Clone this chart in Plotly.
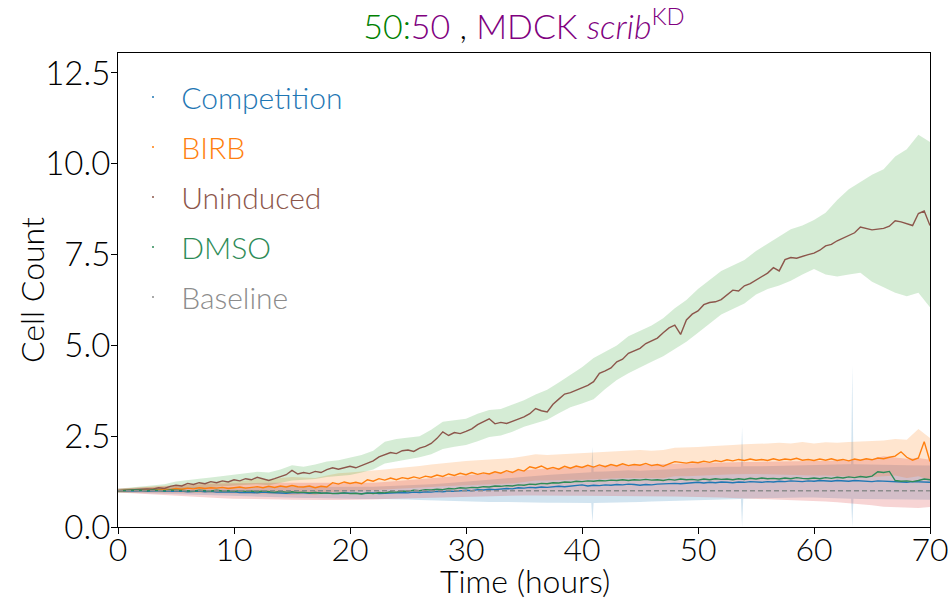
import plotly.graph_objects as go

# ---------------- data ----------------
hours = [i * 0.5 for i in range(141)]          # 0 .. 70 h, half-hour grid
band_hours = list(range(71))                   # 0 .. 70 h, hourly grid

uninduced_mean = [
    1.00, 1.01, 1.00, 1.03, 1.02, 1.05, 1.04, 1.08, 1.06, 1.12,
    1.15, 1.13, 1.20, 1.17, 1.22, 1.19, 1.25, 1.22, 1.27, 1.24,
    1.30, 1.27, 1.33, 1.30, 1.37, 1.32, 1.28, 1.33, 1.38, 1.44,
    1.56, 1.46, 1.50, 1.47, 1.53, 1.50, 1.58, 1.63, 1.59, 1.64,
    1.67, 1.63, 1.70, 1.76, 1.82, 1.93, 1.98, 2.05, 2.02, 2.10,
    2.12, 2.08, 2.17, 2.22, 2.30, 2.44, 2.62, 2.52, 2.60, 2.57,
    2.63, 2.70, 2.82, 2.90, 2.98, 2.84, 2.88, 2.85, 2.92, 2.97,
    3.03, 3.12, 3.26, 3.20, 3.17, 3.38, 3.52, 3.66, 3.70, 3.77,
    3.82, 3.90, 4.00, 4.23, 4.30, 4.38, 4.55, 4.62, 4.78, 4.85,
    4.92, 5.05, 5.12, 5.20, 5.35, 5.48, 5.56, 5.30, 5.70, 5.86,
    5.95, 6.12, 6.18, 6.20, 6.26, 6.40, 6.52, 6.50, 6.64, 6.70,
    6.80, 6.88, 6.99, 7.14, 7.05, 7.36, 7.42, 7.40, 7.46, 7.50,
    7.54, 7.62, 7.74, 7.78, 7.88, 7.95, 8.02, 8.10, 8.26, 8.22,
    8.18, 8.20, 8.22, 8.28, 8.43, 8.40, 8.35, 8.30, 8.63, 8.70,
    8.30,
]

birb_mean = [
    1.00, 1.01, 1.00, 1.02, 1.03, 1.01, 1.04, 1.02, 1.05, 1.03,
    1.06, 1.04, 1.07, 1.05, 1.08, 1.06, 1.08, 1.07, 1.09, 1.06,
    1.08, 1.10, 1.07, 1.09, 1.11, 1.08, 1.12, 1.09, 1.13, 1.10,
    1.14, 1.11, 1.10, 1.13, 1.08, 1.12, 1.10, 1.22, 1.18, 1.24,
    1.20, 1.23, 1.19, 1.30, 1.26, 1.33, 1.29, 1.35, 1.30, 1.36,
    1.33, 1.38, 1.34, 1.40, 1.37, 1.43, 1.39, 1.46, 1.42, 1.48,
    1.44, 1.50, 1.45, 1.49, 1.46, 1.52, 1.48, 1.55, 1.50, 1.58,
    1.54, 1.66, 1.62, 1.68, 1.60, 1.64, 1.59, 1.67, 1.62, 1.68,
    1.64, 1.70, 1.65, 1.71, 1.66, 1.72, 1.68, 1.74, 1.69, 1.72,
    1.70, 1.75, 1.69, 1.72, 1.67, 1.74, 1.80, 1.78, 1.76, 1.79,
    1.77, 1.81, 1.78, 1.83, 1.80, 1.85, 1.82, 1.86, 1.83, 1.87,
    1.84, 1.86, 1.83, 1.88, 1.84, 1.87, 1.85, 1.89, 1.84, 1.86,
    1.83, 1.87, 1.84, 1.88, 1.83, 1.86, 1.82, 1.87, 1.84, 1.88,
    1.85, 1.90, 1.88, 1.92, 1.95, 2.07, 1.92, 1.84, 1.90, 2.35,
    1.80,
]

competition_mean = [
    1.00, 0.99, 1.00, 0.99, 1.00, 0.98, 0.99, 1.00, 0.98, 0.99,
    0.98, 0.99, 0.97, 0.98, 0.99, 0.97, 0.98, 0.96, 0.97, 0.96,
    0.97, 0.95, 0.96, 0.95, 0.94, 0.96, 0.95, 0.94, 0.95, 0.93,
    0.94, 0.95, 0.94, 0.93, 0.95, 0.94, 0.93, 0.94, 0.92, 0.94,
    0.93, 0.94, 0.92, 0.93, 0.94, 0.92, 0.93, 0.95, 0.94, 0.95,
    0.94, 0.96, 0.95, 0.97, 0.96, 0.98, 0.97, 0.99, 0.98, 1.00,
    1.01, 1.00, 1.03, 1.02, 1.04, 1.03, 1.05, 1.06, 1.05, 1.08,
    1.07, 1.09, 1.08, 1.10, 1.09, 1.11, 1.12, 1.11, 1.13, 1.14,
    1.16, 1.13, 1.15, 1.14, 1.16, 1.15, 1.17, 1.16, 1.18, 1.17,
    1.15, 1.17, 1.16, 1.18, 1.19, 1.18, 1.20, 1.19, 1.21, 1.22,
    1.23, 1.21, 1.23, 1.22, 1.24, 1.23, 1.22, 1.24, 1.23, 1.25,
    1.24, 1.23, 1.25, 1.24, 1.26, 1.25, 1.27, 1.26, 1.25, 1.27,
    1.26, 1.28, 1.27, 1.26, 1.28, 1.27, 1.26, 1.28, 1.27, 1.26,
    1.25, 1.27, 1.26, 1.24, 1.25, 1.24, 1.23, 1.25, 1.24, 1.22,
    1.23,
]

dmso_mean = [
    1.00, 1.01, 1.00, 1.02, 1.01, 1.00, 1.02, 1.01, 1.00, 1.02,
    1.01, 1.00, 1.01, 0.99, 1.01, 1.00, 0.99, 1.01, 0.99, 1.00,
    0.98, 1.00, 0.98, 0.99, 0.97, 0.99, 0.98, 0.96, 0.98, 0.96,
    0.97, 0.95, 0.96, 0.94, 0.95, 0.93, 0.94, 0.92, 0.93, 0.94,
    0.92, 0.93, 0.91, 0.94, 0.92, 0.95, 0.94, 0.97, 0.96, 0.99,
    0.98, 1.01, 1.00, 1.03, 1.02, 1.04, 1.03, 1.06, 1.05, 1.08,
    1.07, 1.09, 1.08, 1.11, 1.10, 1.13, 1.12, 1.14, 1.13, 1.16,
    1.15, 1.18, 1.17, 1.20, 1.19, 1.22, 1.21, 1.24, 1.23, 1.26,
    1.25, 1.27, 1.26, 1.28, 1.27, 1.29, 1.28, 1.30, 1.28, 1.30,
    1.29, 1.31, 1.29, 1.30, 1.28, 1.31, 1.29, 1.32, 1.30, 1.31,
    1.29, 1.32, 1.30, 1.33, 1.31, 1.32, 1.30, 1.33, 1.31, 1.34,
    1.32, 1.35, 1.33, 1.34, 1.32, 1.35, 1.33, 1.36, 1.34, 1.33,
    1.35, 1.33, 1.36, 1.34, 1.37, 1.35, 1.38, 1.36, 1.39, 1.37,
    1.40, 1.52, 1.50, 1.53, 1.28, 1.26, 1.27, 1.25, 1.28, 1.32,
    1.30,
]

baseline_value = 1.0

# shaded spread bands (hourly)
uninduced_upper = [
    1.05, 1.08, 1.10, 1.14, 1.18, 1.25, 1.30, 1.33, 1.36, 1.40,
    1.44, 1.47, 1.52, 1.50, 1.58, 1.70, 1.66, 1.72, 1.80, 1.84,
    1.90, 1.98, 2.10, 2.35, 2.42, 2.45, 2.50, 2.68, 2.90, 2.94,
    2.98, 3.12, 3.22, 3.25, 3.38, 3.49, 3.65, 3.78, 3.98, 4.20,
    4.40, 4.65, 4.82, 5.00, 5.25, 5.40, 5.55, 5.75, 6.02, 6.25,
    6.55, 6.80, 7.05, 7.20, 7.35, 7.60, 7.80, 8.00, 8.20, 8.30,
    8.45, 8.65, 9.00, 9.30, 9.50, 9.70, 9.85, 10.20, 10.40, 10.80,
    10.60,
]
uninduced_lower = [
    0.95, 0.95, 0.96, 0.97, 0.98, 1.02, 1.06, 1.08, 1.10, 1.12,
    1.14, 1.16, 1.18, 1.15, 1.22, 1.28, 1.30, 1.32, 1.38, 1.40,
    1.43, 1.50, 1.58, 1.75, 1.80, 1.86, 1.92, 2.00, 2.15, 2.21,
    2.26, 2.36, 2.48, 2.52, 2.62, 2.76, 2.86, 2.95, 3.13, 3.30,
    3.40, 3.52, 3.80, 4.05, 4.23, 4.40, 4.55, 4.70, 4.90, 5.10,
    5.35, 5.60, 5.85, 6.00, 6.15, 6.40, 6.55, 6.65, 6.78, 6.95,
    7.10, 6.95, 6.90, 6.95, 7.00, 6.75, 6.60, 6.45, 6.35, 6.45,
    6.05,
]

birb_upper = [
    1.05, 1.07, 1.09, 1.11, 1.14, 1.16, 1.18, 1.20, 1.22, 1.24,
    1.26, 1.28, 1.33, 1.30, 1.35, 1.38, 1.36, 1.35, 1.42, 1.48,
    1.50, 1.52, 1.56, 1.58, 1.62, 1.64, 1.68, 1.72, 1.76, 1.80,
    1.82, 1.84, 1.86, 1.88, 1.90, 1.95, 2.00, 1.98, 2.00, 2.02,
    2.04, 2.05, 2.06, 2.08, 2.10, 2.12, 2.10, 2.12, 2.18, 2.18,
    2.20, 2.22, 2.25, 2.26, 2.28, 2.28, 2.30, 2.32, 2.30, 2.34,
    2.30, 2.33, 2.32, 2.34, 2.35, 2.36, 2.38, 2.42, 2.40, 2.70,
    2.45,
]
birb_lower = [
    0.95, 0.94, 0.95, 0.95, 0.95, 0.95, 0.95, 0.95, 0.94, 0.93,
    0.92, 0.92, 0.91, 0.92, 0.90, 0.88, 0.90, 0.88, 0.95, 0.97,
    0.98, 1.00, 1.02, 1.03, 1.05, 1.06, 1.08, 1.10, 1.12, 1.13,
    1.14, 1.15, 1.16, 1.18, 1.20, 1.24, 1.28, 1.28, 1.30, 1.30,
    1.30, 1.32, 1.32, 1.34, 1.35, 1.36, 1.35, 1.34, 1.40, 1.40,
    1.42, 1.42, 1.44, 1.45, 1.46, 1.46, 1.45, 1.44, 1.44, 1.43,
    1.42, 1.42, 1.40, 1.38, 1.38, 1.38, 1.40, 1.42, 1.35, 1.40,
    1.30,
]

dmso_upper = [
    1.05, 1.07, 1.09, 1.11, 1.13, 1.15, 1.17, 1.18, 1.19, 1.20,
    1.21, 1.22, 1.22, 1.22, 1.22, 1.22, 1.21, 1.21, 1.20, 1.20,
    1.20, 1.21, 1.22, 1.24, 1.26, 1.28, 1.31, 1.34, 1.37, 1.40,
    1.43, 1.46, 1.49, 1.52, 1.54, 1.57, 1.59, 1.61, 1.63, 1.65,
    1.67, 1.68, 1.69, 1.70, 1.71, 1.71, 1.72, 1.73, 1.74, 1.75,
    1.76, 1.77, 1.78, 1.78, 1.79, 1.79, 1.80, 1.80, 1.80, 1.81,
    1.82, 1.82, 1.83, 1.84, 1.85, 1.87, 1.95, 1.92, 1.88, 1.90,
    1.85,
]
dmso_lower = [
    0.95, 0.93, 0.91, 0.89, 0.87, 0.85, 0.83, 0.82, 0.80, 0.79,
    0.78, 0.78, 0.77, 0.77, 0.76, 0.75, 0.74, 0.74, 0.74, 0.74,
    0.74, 0.75, 0.76, 0.77, 0.78, 0.79, 0.80, 0.81, 0.82, 0.83,
    0.84, 0.85, 0.86, 0.87, 0.87, 0.87, 0.87, 0.86, 0.86, 0.86,
    0.86, 0.86, 0.86, 0.86, 0.86, 0.85, 0.85, 0.84, 0.84, 0.83,
    0.83, 0.82, 0.81, 0.80, 0.79, 0.78, 0.77, 0.76, 0.74, 0.73,
    0.72, 0.70, 0.68, 0.66, 0.63, 0.60, 0.56, 0.55, 0.53, 0.52,
    0.55,
]

# competition band has three single-frame spikes, so it keeps its own time list
competition_band_hours = [
    0, 1, 2, 3, 4, 5, 6, 7, 8, 9, 10, 11, 12, 13, 14, 15, 16, 17, 18, 19,
    20, 21, 22, 23, 24, 25, 26, 27, 28, 29, 30, 31, 32, 33, 34, 35, 36, 37,
    38, 39, 40, 40.8, 40.9, 41.0, 42, 43, 44, 45, 46, 47, 48, 49, 50, 51,
    52, 53, 53.7, 53.8, 53.9, 55, 56, 57, 58, 59, 60, 61, 62, 63, 63.2,
    63.3, 63.4, 64, 65, 66, 67, 68, 69, 70,
]
competition_upper = [
    1.05, 1.06, 1.07, 1.08, 1.08, 1.09, 1.09, 1.10, 1.10, 1.10, 1.10, 1.09,
    1.09, 1.09, 1.10, 1.10, 1.10, 1.09, 1.09, 1.09, 1.10, 1.10, 1.11, 1.12,
    1.13, 1.14, 1.16, 1.18, 1.20, 1.22, 1.25, 1.28, 1.30, 1.33, 1.36, 1.38,
    1.40, 1.43, 1.45, 1.47, 1.50, 1.51, 2.20, 1.52, 1.53, 1.55, 1.56, 1.55,
    1.56, 1.58, 1.60, 1.62, 1.64, 1.65, 1.66, 1.66, 1.66, 2.75, 1.67, 1.67,
    1.68, 1.69, 1.70, 1.70, 1.71, 1.72, 1.72, 1.73, 1.73, 4.45, 1.73, 1.73,
    1.72, 1.72, 1.71, 1.70, 1.70, 1.69,
]
competition_lower = [
    0.95, 0.94, 0.93, 0.92, 0.91, 0.90, 0.89, 0.88, 0.87, 0.86, 0.85, 0.84,
    0.83, 0.82, 0.82, 0.81, 0.80, 0.80, 0.79, 0.78, 0.78, 0.77, 0.77, 0.77,
    0.77, 0.76, 0.74, 0.73, 0.72, 0.71, 0.70, 0.70, 0.69, 0.69, 0.68, 0.68,
    0.68, 0.67, 0.67, 0.67, 0.66, 0.66, 0.10, 0.66, 0.67, 0.67, 0.68, 0.69,
    0.70, 0.71, 0.72, 0.73, 0.74, 0.75, 0.76, 0.77, 0.77, 0.00, 0.78, 0.79,
    0.80, 0.80, 0.81, 0.81, 0.81, 0.80, 0.79, 0.78, 0.78, 0.00, 0.78, 0.77,
    0.77, 0.76, 0.76, 0.75, 0.75, 0.75,
]

series_names = ["Competition", "BIRB", "Uninduced", "DMSO", "Baseline"]
line_colors = ["#1f77b4", "#ff7f0e", "#8c564b", "#2e8b57", "#8c8c8c"]
band_fills = ["rgba(31,119,180,0.2)", "rgba(255,127,14,0.2)",
              "rgba(44,160,44,0.2)", "rgba(214,39,40,0.2)"]

x_ticks = [0, 10, 20, 30, 40, 50, 60, 70]
y_ticks = [0.0, 2.5, 5.0, 7.5, 10.0, 12.5]
y_tick_text = ["0.0", "2.5", "5.0", "7.5", "10.0", "12.5"]

FONT = "Lato"
W = 300  # light weight

fig = go.Figure()

# ---- bands ----
bands = [
    (competition_band_hours, competition_lower, competition_upper, band_fills[0]),
    (band_hours, birb_lower, birb_upper, band_fills[1]),
    (band_hours, uninduced_lower, uninduced_upper, band_fills[2]),
    (band_hours, dmso_lower, dmso_upper, band_fills[3]),
]
for bx, lo, hi, fc in bands:
    fig.add_trace(go.Scatter(x=bx, y=lo, mode="lines", line=dict(width=0),
                             showlegend=False, hoverinfo="skip"))
    fig.add_trace(go.Scatter(x=bx, y=hi, mode="lines", line=dict(width=0),
                             fill="tonexty", fillcolor=fc,
                             showlegend=False, hoverinfo="skip"))

# ---- mean lines ----
means = [competition_mean, birb_mean, uninduced_mean, dmso_mean]
for name, ys, col in zip(series_names[:4], means, line_colors[:4]):
    fig.add_trace(go.Scatter(x=hours[:len(ys)], y=ys, mode="lines",
                             line=dict(color=col, width=1.4),
                             name=name, showlegend=False))

# baseline
fig.add_trace(go.Scatter(x=[hours[0], hours[-1]], y=[baseline_value, baseline_value],
                         mode="lines", line=dict(color=line_colors[4], width=1.5,
                                                 dash="5px,3px"),
                         showlegend=False))

# ---- legend entries (tiny dot handles, coloured text) ----
for i, (name, col) in enumerate(zip(series_names, line_colors)):
    fig.add_trace(go.Scatter(
        x=[None], y=[None], mode="markers",
        marker=dict(color=col, size=2),
        name=f"&nbsp;<span style='color:{col}'>{name}</span>",
        legendgroup=f"g{i}", showlegend=True))

title_text = ("<span style='color:#008000'>50:</span>"
              "<span style='color:#800080'>50</span> , "
              "<span style='color:#800080'>MDCK <i>scrib</i><sup>KD</sup></span>")

fig.update_layout(
    width=950, height=599,
    margin=dict(l=118, r=20, t=53, b=72, autoexpand=False),
    paper_bgcolor="white", plot_bgcolor="white",
    font=dict(family=FONT, size=30, color="black", weight=W),
    title=dict(text=title_text, x=0.5515, xanchor="center",
               y=1 - 27 / 599, yanchor="middle", yref="container",
               font=dict(family=FONT, size=34, weight=W)),
    legend=dict(x=0.0185, y=0.962, xanchor="left", yanchor="top",
                bgcolor="rgba(0,0,0,0)", font=dict(family=FONT, size=30, weight=W),
                traceorder="grouped", tracegroupgap=8, itemwidth=30),
    xaxis=dict(range=[0, 70], tickvals=x_ticks, ticks="outside", ticklen=6,
               tickcolor="black", showline=True, linecolor="black", linewidth=1.2,
               mirror=True, showgrid=False, zeroline=False, automargin=False,
               ticklabelstandoff=-12,
               tickfont=dict(size=32, weight=W)),
    yaxis=dict(range=[0, 13.05], tickvals=y_ticks, ticktext=y_tick_text,
               ticks="outside", ticklen=6, tickcolor="black",
               showline=True, linecolor="black", linewidth=1.2, mirror=True,
               showgrid=False, zeroline=False, automargin=False,
               ticklabelstandoff=-6,
               tickfont=dict(size=33, weight=W)),
    annotations=[
        dict(text="Time (hours)", xref="paper", yref="paper",
             x=(525 - 118) / 812, y=-(580 - 527) / 474,
             xanchor="center", yanchor="middle", showarrow=False,
             font=dict(family=FONT, size=32, weight=W, color="black")),
        dict(text="Cell Count", xref="paper", yref="paper",
             x=-(118 - 31) / 812, y=(527 - 290) / 474, textangle=-90,
             xanchor="center", yanchor="middle", showarrow=False,
             font=dict(family=FONT, size=32, weight=W, color="black")),
    ],
)

fig.write_html("out.html")
